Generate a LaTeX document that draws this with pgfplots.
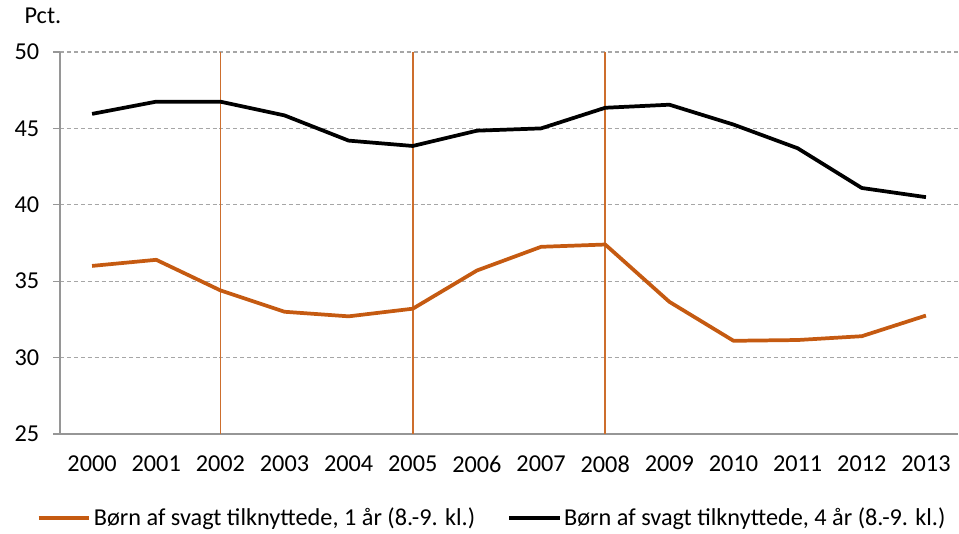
\documentclass[border=0pt]{standalone}
\usepackage{pgfplots}
\pgfplotsset{compat=1.18}
\usepackage{fontspec}
\setmainfont{Carlito}
\definecolor{orng}{RGB}{197,90,17}
\definecolor{vln}{RGB}{205,110,45}
\definecolor{gridc}{RGB}{166,166,166}
\definecolor{axc}{RGB}{150,150,150}
\begin{document}
\begin{tikzpicture}
\begin{axis}[
  scale only axis,
  width=673.5pt, height=286.5pt,
  xmin=-0.5, xmax=13.5, ymin=25, ymax=50,
  axis lines*=left,
  axis line style={axc, line width=0.8pt},
  xtick={0,...,13},
  xticklabels={2000,2001,2002,2003,2004,2005,2006,2007,2008,2009,2010,2011,2012,2013},
  minor xtick={-0.5,0.5,...,13.5},
  xtick style={draw=none},
  minor x tick style={axc, line width=0.8pt},
  minor tick length=5pt,
  ytick={25,30,35,40,45,50},
  ytick style={axc, line width=0.8pt},
  major tick length=5pt,
  tick align=outside,
  ymajorgrids,
  grid style={gridc, line width=0.8pt, dash pattern=on 3pt off 2.2pt},
  /pgf/number format/assume math mode=true,
  tick label style={font=\fontsize{18.2}{22}\selectfont},
  xticklabel style={yshift=-8pt},
  yticklabel style={xshift=-7pt},
  legend style={at={(0.4816,-0.22)}, anchor=center, draw=none, fill=none,
    legend columns=2, font=\fontsize{18.2}{22}\selectfont,
    /tikz/every even column/.append style={column sep=22pt},
    inner sep=0pt},
  legend image code/.code={\draw[#1] (0pt,0pt) -- (38pt,0pt);},
  clip=false,
]
\addplot[vln, line width=1.1pt, forget plot] coordinates {(2,25) (2,50)};
\addplot[vln, line width=1.1pt, forget plot] coordinates {(5,25) (5,50)};
\addplot[vln, line width=1.1pt, forget plot] coordinates {(8,25) (8,50)};
\addplot[orng, line width=2.8pt, line join=round] coordinates {
 (0,36.0) (1,36.4) (2,34.4) (3,33.0) (4,32.7) (5,33.2) (6,35.7)
 (7,37.25) (8,37.4) (9,33.65) (10,31.1) (11,31.15) (12,31.4) (13,32.75)};
\addlegendentry{Børn af svagt tilknyttede, 1 år (8.-9. kl.)}
\addplot[black, line width=2.8pt, line join=round] coordinates {
 (0,45.95) (1,46.75) (2,46.75) (3,45.85) (4,44.2) (5,43.85) (6,44.85)
 (7,45.0) (8,46.35) (9,46.55) (10,45.25) (11,43.7) (12,41.1) (13,40.5)};
\addlegendentry{Børn af svagt tilknyttede, 4 år (8.-9. kl.)}
\node[anchor=base west, font=\fontsize{18.2}{22}\selectfont] at ([xshift=-30pt,yshift=21pt]rel axis cs:0,1) {Pct.};
\coordinate (bl) at (rel axis cs:0,0);
\coordinate (tr) at (rel axis cs:1,1);
\end{axis}
\pgfresetboundingbox
\path ([shift={(-45pt,-75pt)}]bl) rectangle ([shift={(0.75pt,39pt)}]tr);
\end{tikzpicture}
\end{document}
